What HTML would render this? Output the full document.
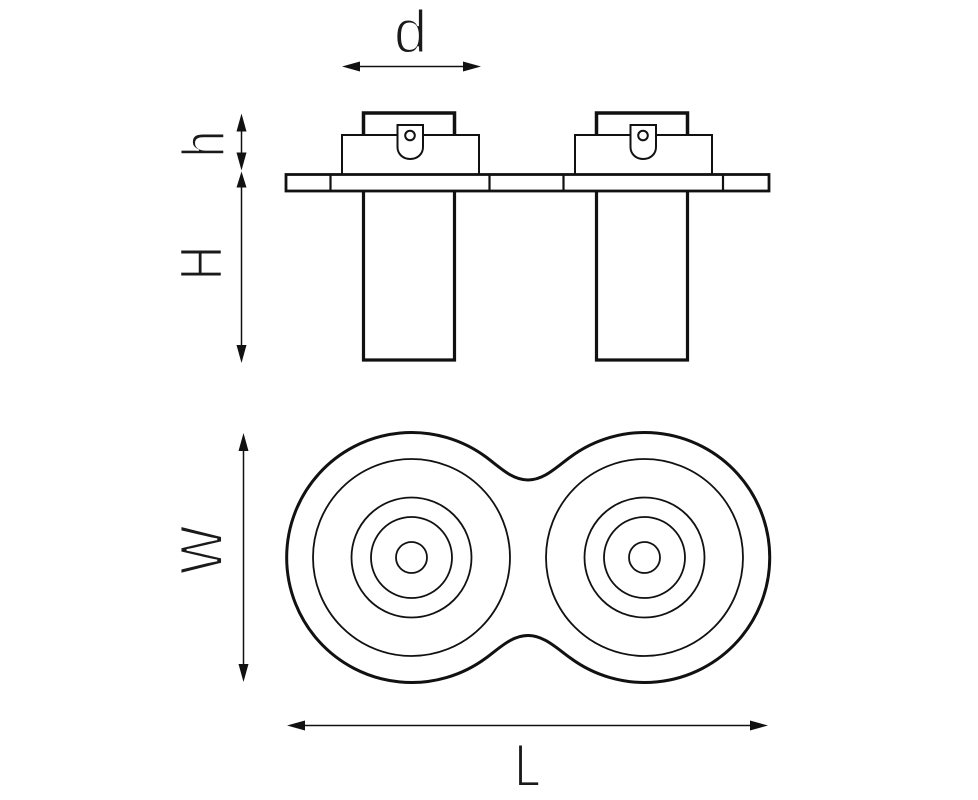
<!DOCTYPE html>
<html>
<head>
<meta charset="utf-8">
<style>
html,body{margin:0;padding:0;background:#fff;width:978px;height:800px;overflow:hidden}
svg{display:block}
text{font-family:"Liberation Sans",sans-serif;font-size:60px;fill:#1a1a1a;stroke:#fff;stroke-width:1.9px}
</style>
</head>
<body>
<svg width="978" height="800" viewBox="0 0 978 800" xmlns="http://www.w3.org/2000/svg">
<rect width="978" height="800" fill="#fff"/>
<g fill="none" stroke="#111">
  <!-- flange -->
  <rect x="286" y="174.500" width="483" height="16.500" stroke-width="2.800"/>
  <path d="M330.500 175V191M489.500 175V191M563.500 175V191M723 175V191" stroke-width="2.200"/>
  <!-- left unit -->
  <path d="M363.500 135V113H454.500V135" stroke-width="3.500"/>
  <path d="M342 175V135H397.500M423 135H479V175" stroke-width="2"/>
  <path d="M397.500 125H423V147C423 154 417.500 159 410.200 159C403 159 397.500 154 397.500 147Z" stroke-width="2" fill="#fff"/>
  <circle cx="410" cy="135.500" r="4.800" stroke-width="2"/>
  <path d="M363.500 191V360H454.500V191" stroke-width="3.200"/>
  <!-- right unit -->
  <path d="M596.500 135V113H687.500V135" stroke-width="3.500"/>
  <path d="M575 175V135H630.500M656 135H712V175" stroke-width="2"/>
  <path d="M630.500 125H656V147C656 154 650.500 159 643.200 159C636 159 630.500 154 630.500 147Z" stroke-width="2" fill="#fff"/>
  <circle cx="643" cy="135.500" r="4.800" stroke-width="2"/>
  <path d="M596.500 191V360H687.500V191" stroke-width="3.200"/>
  <!-- plan outline -->
  <path d="M486 457C500 467.400 512 480 528 480C544 480 556 467.400 570.400 457A125 125 0 1 1 570.400 658C556 647.600 544 635.500 528 635.500C512 635.500 500 647.600 486 658A125 125 0 1 1 486 457Z" stroke-width="3"/>
  <!-- circles -->
  <g stroke-width="1.800">
    <circle cx="411.500" cy="557.500" r="98.500"/>
    <circle cx="411.500" cy="557.500" r="60"/>
    <circle cx="411.500" cy="557.500" r="40.500"/>
    <circle cx="411.500" cy="557.500" r="15.500"/>
    <circle cx="644.500" cy="557.500" r="98.500"/>
    <circle cx="644.500" cy="557.500" r="60"/>
    <circle cx="644.500" cy="557.500" r="40.500"/>
    <circle cx="644.500" cy="557.500" r="15.500"/>
  </g>
  <!-- dimension lines -->
  <g stroke-width="1.500">
    <path d="M355 66.500H470"/>
    <path d="M241.500 125V160"/>
    <path d="M241.500 180V350"/>
    <path d="M243.500 445V670"/>
    <path d="M300 725.500H755"/>
  </g>
</g>
<!-- arrowheads -->
<g fill="#111">
  <path d="M342 66.500L360 61.500V71.500Z"/>
  <path d="M481 66.500L463 61.500V71.500Z"/>
  <path d="M241.500 113.500L236.500 131.500H246.500Z"/>
  <path d="M241.500 170.500L236.500 152.500H246.500Z"/>
  <path d="M241.500 171.500L236.500 187.500H246.500Z"/>
  <path d="M241.500 363L236.500 345H246.500Z"/>
  <path d="M243.500 433L238.500 451H248.500Z"/>
  <path d="M243.500 682L238.500 664H248.500Z"/>
  <path d="M287 725.500L305 720.500V730.500Z"/>
  <path d="M768 725.500L750 720.500V730.500Z"/>
</g>
<!-- labels -->
<text transform="translate(410.500,52)" text-anchor="middle">d</text>
<text transform="translate(224,144) rotate(-90) scale(.8,1)" text-anchor="middle">h</text>
<text transform="translate(222,263) rotate(-90) scale(.79,1)" text-anchor="middle">H</text>
<text transform="translate(222,550) rotate(-90) scale(.85,1)" text-anchor="middle">W</text>
<text transform="translate(514.500,786) scale(.78,1)">L</text>
</svg>
</body>
</html>
